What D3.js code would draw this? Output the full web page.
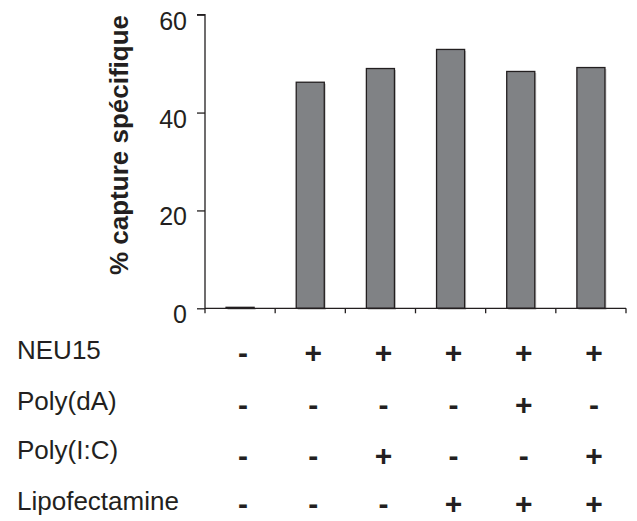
<!DOCTYPE html>
<html>
<head>
<meta charset="utf-8">
<script src="https://cdn.jsdelivr.net/npm/d3@7"></script>
<style>
  html, body { margin: 0; padding: 0; background: #ffffff; }
  svg { display: block; }
  text { font-family: Arial, "Liberation Sans", sans-serif; fill: #231f20; }
</style>
</head>
<body>
<svg id="chart" width="637" height="521"></svg>
<script>
// ---- data ----
const conditions = ["c1", "c2", "c3", "c4", "c5", "c6"];
const values = [0.2, 46.2, 49.0, 52.9, 48.4, 49.2];
const yTicks = [0, 20, 40, 60];
const yTitle = "% capture spécifique";
const rowLabels = ["NEU15", "Poly(dA)", "Poly(I:C)", "Lipofectamine"];
const neu15 = ["-", "+", "+", "+", "+", "+"];
const polyDA = ["-", "-", "-", "-", "+", "-"];
const polyIC = ["-", "-", "+", "-", "-", "+"];
const lipofectamine = ["-", "-", "-", "+", "+", "+"];
const rowSigns = [neu15, polyDA, polyIC, lipofectamine];

// ---- layout ----
const svg = d3.select("#chart");
const axisColor = "#231f20";
const x0 = 205, x1 = 626, yTop = 14.7, yBot = 308.3;

const x = d3.scaleBand().domain(conditions).range([x0, x1])
  .paddingInner(0.6).paddingOuter(0.3);
const y = d3.scaleLinear().domain([0, 60]).range([yBot, yTop]);

// bars: faint shadow then bar
const g = svg.append("g");
g.selectAll("rect.shadow").data(values).join("rect")
  .attr("class", "shadow")
  .attr("x", (d, i) => x(conditions[i]) + 1.5)
  .attr("y", d => y(d) + 1.5)
  .attr("width", x.bandwidth())
  .attr("height", d => yBot - y(d))
  .attr("fill", "#c8c8c8");
g.selectAll("rect.bar").data(values).join("rect")
  .attr("class", "bar")
  .attr("x", (d, i) => x(conditions[i]))
  .attr("y", d => y(d))
  .attr("width", x.bandwidth())
  .attr("height", d => yBot - y(d))
  .attr("fill", "#808285")
  .attr("stroke", axisColor)
  .attr("stroke-width", 1.3);

// y axis
const yAxis = d3.axisLeft(y).tickValues(yTicks).tickSize(8).tickPadding(10)
  .tickFormat(d3.format("d"));
const ya = svg.append("g").attr("transform", `translate(${x0},0)`).call(yAxis);
ya.select(".domain").attr("stroke", axisColor).attr("stroke-width", 1.3)
  .attr("d", `M-8,${yTop}H0V${yBot}`);
ya.selectAll(".tick line").attr("stroke", axisColor).attr("stroke-width", 1.3);
ya.selectAll(".tick text")
  .attr("font-size", 25)
  .attr("font-family", "Arial, 'Liberation Sans', sans-serif")
  .attr("fill", axisColor)
  .attr("dy", "0.7em")
  .attr("y", -3);

// x axis with boundary ticks
const xa = svg.append("g");
xa.append("line").attr("x1", x0).attr("x2", x1).attr("y1", yBot).attr("y2", yBot)
  .attr("stroke", axisColor).attr("stroke-width", 1.3);
const step = x.step();
const boundaries = d3.range(conditions.length + 1).map(i => x0 + i * step);
xa.selectAll("line.tk").data(boundaries).join("line")
  .attr("class", "tk")
  .attr("x1", d => d).attr("x2", d => d)
  .attr("y1", yBot).attr("y2", yBot + 5)
  .attr("stroke", axisColor).attr("stroke-width", 1.3);

// y title
svg.append("text")
  .attr("transform", `translate(128,${(13 + 277) / 2}) rotate(-90)`)
  .attr("text-anchor", "middle")
  .attr("font-size", 26)
  .attr("font-weight", "bold")
  .text(yTitle);

// table rows
const textBaselines = [358.5, 410, 459, 510];
const signBaselines = [363.3, 414.7, 465.7, 514];
rowLabels.forEach((lab, r) => {
  svg.append("text")
    .attr("x", 17).attr("y", textBaselines[r])
    .attr("font-size", 26)
    .text(lab);
  svg.selectAll(null).data(rowSigns[r]).join("text")
    .attr("x", (d, i) => x(conditions[i]) + x.bandwidth() / 2 + 3)
    .attr("y", signBaselines[r])
    .attr("text-anchor", "middle")
    .attr("font-size", 30)
    .attr("font-weight", "bold")
    .text(d => d);
});
</script>
</body>
</html>
